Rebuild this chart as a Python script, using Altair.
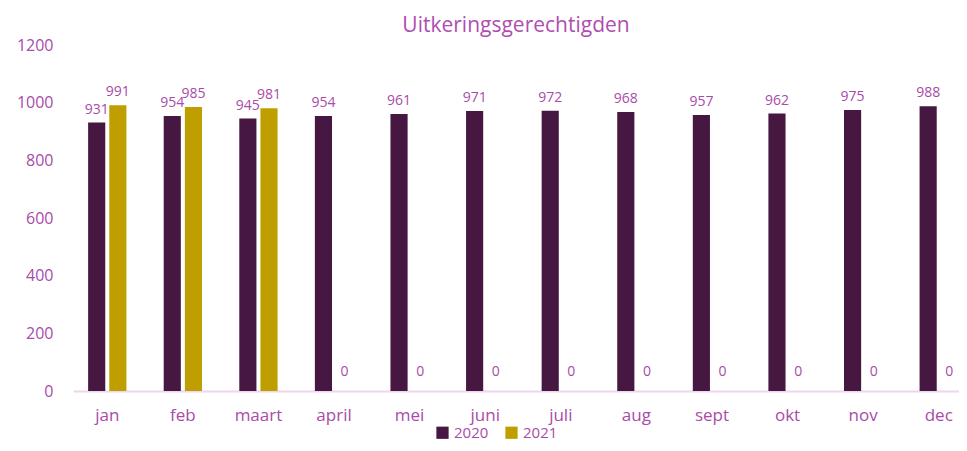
import altair as alt
import pandas as pd

months = ["jan", "feb", "maart", "april", "mei", "juni", "juli", "aug", "sept", "okt", "nov", "dec"]
v2020 = [931, 954, 945, 954, 961, 971, 972, 968, 957, 962, 975, 988]
v2021 = [991, 985, 981, 0, 0, 0, 0, 0, 0, 0, 0, 0]
years = ["2020", "2021"]
colors = ["#451741", "#bf9f00"]

rows = []
for m, a, b in zip(months, v2020, v2021):
    rows.append({"maand": m, "jaar": "2020", "waarde": a})
    rows.append({"maand": m, "jaar": "2021", "waarde": b})
df = pd.DataFrame(rows)

TXT = "#a94ba8"
FONT = "Open Sans"

x = alt.X("maand:N", sort=months, title=None,
          scale=alt.Scale(range=[0, 900], paddingInner=0.4933),
          axis=alt.Axis(labelAngle=0, labelFontSize=17, labelColor=TXT, labelFont=FONT,
                        labelPadding=16, ticks=False, domainColor="#efd5ef", domainWidth=2))
xo = alt.XOffset("jaar:N", sort=years, scale=alt.Scale(paddingInner=0.19, paddingOuter=0))
y = alt.Y("waarde:Q", title=None,
          scale=alt.Scale(domain=[0, 1200], nice=False),
          axis=alt.Axis(values=[0, 200, 400, 600, 800, 1000, 1200], grid=False, domain=False,
                        ticks=False, labelFontSize=16, labelColor=TXT, labelFont=FONT,
                        labelPadding=20, format="d"))

bars = alt.Chart(df).mark_bar().encode(
    x=x, xOffset=xo, y=y,
    color=alt.Color("jaar:N", sort=years,
                    scale=alt.Scale(domain=years, range=colors),
                    legend=alt.Legend(title=None, orient="none", direction="horizontal",
                                      legendX=362, legendY=380, symbolType="square",
                                      symbolSize=150, labelFontSize=15, labelColor=TXT,
                                      labelFont=FONT, columnPadding=15, symbolStrokeWidth=0)),
)

labels_nz = alt.Chart(df).transform_filter("datum.waarde > 0").mark_text(
    baseline="bottom", dy=-6, fontSize=14, color=TXT, font=FONT
).encode(x=alt.X("maand:N", sort=months), xOffset=alt.XOffset("jaar:N", sort=years),
         y="waarde:Q", text="waarde:Q")

labels_z = alt.Chart(df).transform_filter("datum.waarde == 0").mark_text(
    baseline="bottom", dy=-12, fontSize=14, color=TXT, font=FONT
).encode(x=alt.X("maand:N", sort=months), xOffset=alt.XOffset("jaar:N", sort=years),
         y="waarde:Q", text="waarde:Q")

chart = alt.layer(bars, labels_nz, labels_z).properties(
    width=886, height=346,
    autosize=alt.AutoSizeParams(type="none"),
    padding={"left": 65, "top": 37, "right": 0, "bottom": 52},
    title=alt.Title("Uitkeringsgerechtigden", fontSize=21, color="#b04db0", font=FONT,
                    fontWeight="normal", anchor="middle", offset=1),
).configure_view(stroke=None)

chart.save("out.html", embed_options={"renderer": "svg", "actions": False})
